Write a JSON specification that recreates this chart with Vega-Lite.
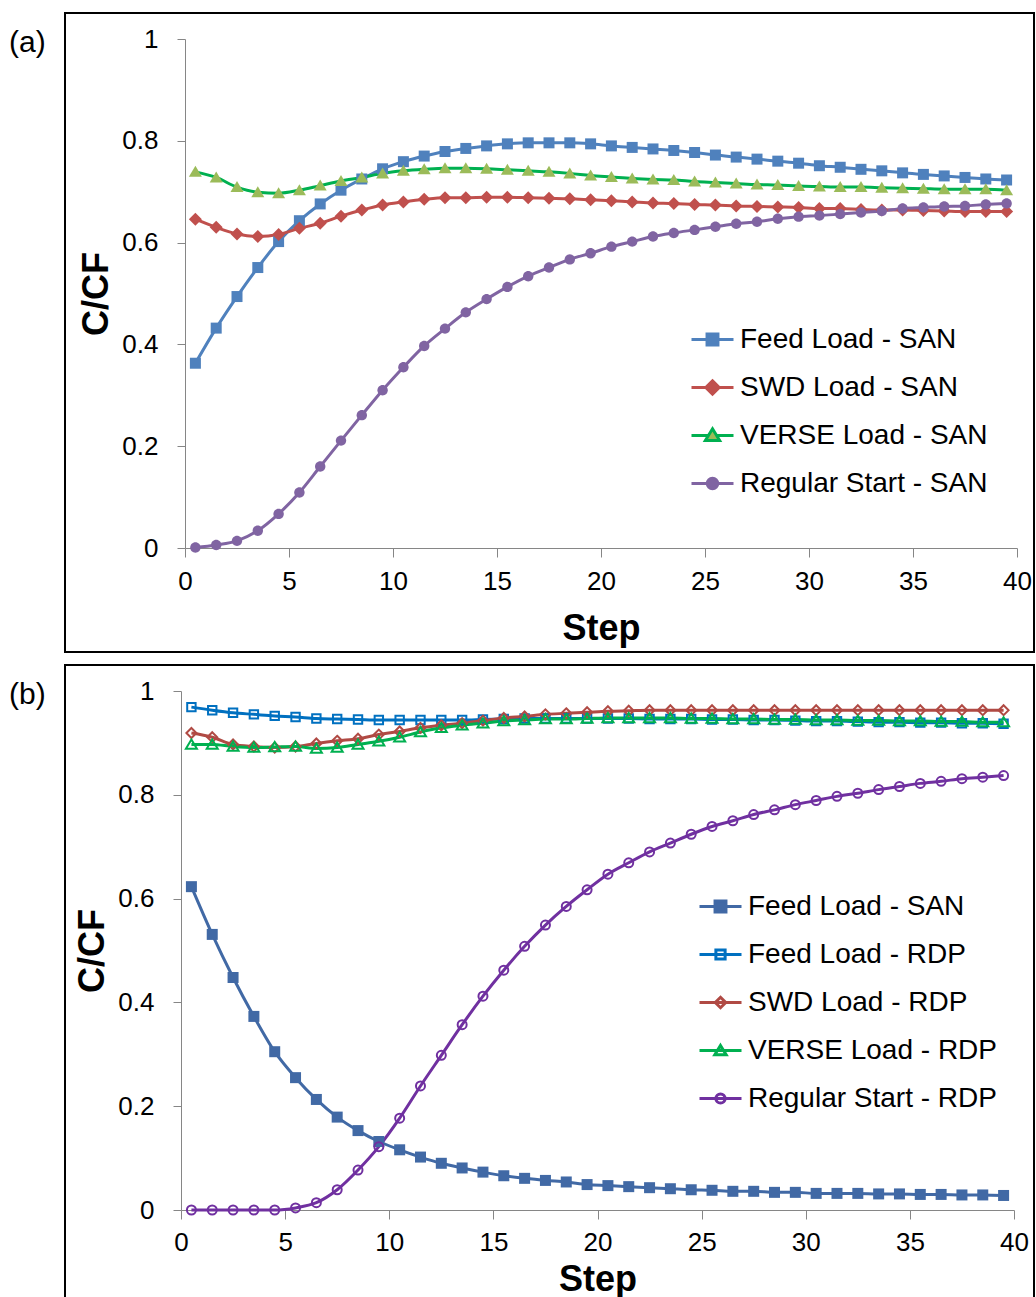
{
  "$schema": "https://vega.github.io/schema/vega-lite/v6.json",
  "background": "white",
  "padding": {"left": 8, "top": 12, "right": 0, "bottom": 0},
  "spacing": 11,
  "config": {
    "font": "Liberation Sans",
    "axis": {"grid": false, "domainColor": "#868686", "tickColor": "#868686", "labelColor": "black", "titleColor": "black", "labelFont": "Liberation Sans", "titleFont": "Liberation Sans", "labelFontSize": 26, "titleFontSize": 36, "titleFontWeight": "bold", "domainWidth": 1, "tickWidth": 1, "labelFlush": false, "labelOverlap": false},
    "legend": {"labelFont": "Liberation Sans", "labelFontSize": 28, "labelColor": "black", "labelLimit": 600, "symbolSize": 1764, "rowPadding": 11, "labelOffset": 5, "padding": 0, "symbolStrokeWidth": 3, "symbolOpacity": 1},
    "title": {"font": "Liberation Sans", "fontSize": 30, "fontWeight": "normal", "color": "black"}
  },
  "resolve": {"scale": {"x": "independent", "y": "independent", "stroke": "independent", "fill": "independent", "shape": "independent"}, "legend": {"stroke": "independent"}},
  "datasets": {
    "a": [
      {"s":"Feed Load - SAN","x":0.5,"y":0.363},{"s":"Feed Load - SAN","x":1.5,"y":0.432},{"s":"Feed Load - SAN","x":2.5,"y":0.494},{"s":"Feed Load - SAN","x":3.5,"y":0.551},{"s":"Feed Load - SAN","x":4.5,"y":0.602},{"s":"Feed Load - SAN","x":5.5,"y":0.643},{"s":"Feed Load - SAN","x":6.5,"y":0.676},{"s":"Feed Load - SAN","x":7.5,"y":0.703},{"s":"Feed Load - SAN","x":8.5,"y":0.725},{"s":"Feed Load - SAN","x":9.5,"y":0.745},
      {"s":"Feed Load - SAN","x":10.5,"y":0.759},{"s":"Feed Load - SAN","x":11.5,"y":0.770},{"s":"Feed Load - SAN","x":12.5,"y":0.779},{"s":"Feed Load - SAN","x":13.5,"y":0.785},{"s":"Feed Load - SAN","x":14.5,"y":0.790},{"s":"Feed Load - SAN","x":15.5,"y":0.794},{"s":"Feed Load - SAN","x":16.5,"y":0.796},{"s":"Feed Load - SAN","x":17.5,"y":0.796},{"s":"Feed Load - SAN","x":18.5,"y":0.796},{"s":"Feed Load - SAN","x":19.5,"y":0.794},
      {"s":"Feed Load - SAN","x":20.5,"y":0.790},{"s":"Feed Load - SAN","x":21.5,"y":0.787},{"s":"Feed Load - SAN","x":22.5,"y":0.784},{"s":"Feed Load - SAN","x":23.5,"y":0.781},{"s":"Feed Load - SAN","x":24.5,"y":0.777},{"s":"Feed Load - SAN","x":25.5,"y":0.772},{"s":"Feed Load - SAN","x":26.5,"y":0.768},{"s":"Feed Load - SAN","x":27.5,"y":0.764},{"s":"Feed Load - SAN","x":28.5,"y":0.760},{"s":"Feed Load - SAN","x":29.5,"y":0.756},
      {"s":"Feed Load - SAN","x":30.5,"y":0.751},{"s":"Feed Load - SAN","x":31.5,"y":0.748},{"s":"Feed Load - SAN","x":32.5,"y":0.744},{"s":"Feed Load - SAN","x":33.5,"y":0.741},{"s":"Feed Load - SAN","x":34.5,"y":0.737},{"s":"Feed Load - SAN","x":35.5,"y":0.734},{"s":"Feed Load - SAN","x":36.5,"y":0.731},{"s":"Feed Load - SAN","x":37.5,"y":0.728},{"s":"Feed Load - SAN","x":38.5,"y":0.725},{"s":"Feed Load - SAN","x":39.5,"y":0.723},
      {"s":"SWD Load - SAN","x":0.5,"y":0.646},{"s":"SWD Load - SAN","x":1.5,"y":0.630},{"s":"SWD Load - SAN","x":2.5,"y":0.617},{"s":"SWD Load - SAN","x":3.5,"y":0.612},{"s":"SWD Load - SAN","x":4.5,"y":0.616},{"s":"SWD Load - SAN","x":5.5,"y":0.628},{"s":"SWD Load - SAN","x":6.5,"y":0.638},{"s":"SWD Load - SAN","x":7.5,"y":0.652},{"s":"SWD Load - SAN","x":8.5,"y":0.664},{"s":"SWD Load - SAN","x":9.5,"y":0.674},
      {"s":"SWD Load - SAN","x":10.5,"y":0.680},{"s":"SWD Load - SAN","x":11.5,"y":0.685},{"s":"SWD Load - SAN","x":12.5,"y":0.688},{"s":"SWD Load - SAN","x":13.5,"y":0.688},{"s":"SWD Load - SAN","x":14.5,"y":0.689},{"s":"SWD Load - SAN","x":15.5,"y":0.689},{"s":"SWD Load - SAN","x":16.5,"y":0.688},{"s":"SWD Load - SAN","x":17.5,"y":0.687},{"s":"SWD Load - SAN","x":18.5,"y":0.686},{"s":"SWD Load - SAN","x":19.5,"y":0.684},
      {"s":"SWD Load - SAN","x":20.5,"y":0.682},{"s":"SWD Load - SAN","x":21.5,"y":0.680},{"s":"SWD Load - SAN","x":22.5,"y":0.678},{"s":"SWD Load - SAN","x":23.5,"y":0.677},{"s":"SWD Load - SAN","x":24.5,"y":0.675},{"s":"SWD Load - SAN","x":25.5,"y":0.674},{"s":"SWD Load - SAN","x":26.5,"y":0.672},{"s":"SWD Load - SAN","x":27.5,"y":0.671},{"s":"SWD Load - SAN","x":28.5,"y":0.670},{"s":"SWD Load - SAN","x":29.5,"y":0.669},
      {"s":"SWD Load - SAN","x":30.5,"y":0.667},{"s":"SWD Load - SAN","x":31.5,"y":0.667},{"s":"SWD Load - SAN","x":32.5,"y":0.665},{"s":"SWD Load - SAN","x":33.5,"y":0.664},{"s":"SWD Load - SAN","x":34.5,"y":0.664},{"s":"SWD Load - SAN","x":35.5,"y":0.663},{"s":"SWD Load - SAN","x":36.5,"y":0.662},{"s":"SWD Load - SAN","x":37.5,"y":0.661},{"s":"SWD Load - SAN","x":38.5,"y":0.661},{"s":"SWD Load - SAN","x":39.5,"y":0.661},
      {"s":"VERSE Load - SAN","x":0.5,"y":0.739},{"s":"VERSE Load - SAN","x":1.5,"y":0.728},{"s":"VERSE Load - SAN","x":2.5,"y":0.709},{"s":"VERSE Load - SAN","x":3.5,"y":0.699},{"s":"VERSE Load - SAN","x":4.5,"y":0.697},{"s":"VERSE Load - SAN","x":5.5,"y":0.703},{"s":"VERSE Load - SAN","x":6.5,"y":0.712},{"s":"VERSE Load - SAN","x":7.5,"y":0.721},{"s":"VERSE Load - SAN","x":8.5,"y":0.728},{"s":"VERSE Load - SAN","x":9.5,"y":0.736},
      {"s":"VERSE Load - SAN","x":10.5,"y":0.741},{"s":"VERSE Load - SAN","x":11.5,"y":0.744},{"s":"VERSE Load - SAN","x":12.5,"y":0.746},{"s":"VERSE Load - SAN","x":13.5,"y":0.746},{"s":"VERSE Load - SAN","x":14.5,"y":0.745},{"s":"VERSE Load - SAN","x":15.5,"y":0.743},{"s":"VERSE Load - SAN","x":16.5,"y":0.741},{"s":"VERSE Load - SAN","x":17.5,"y":0.739},{"s":"VERSE Load - SAN","x":18.5,"y":0.736},{"s":"VERSE Load - SAN","x":19.5,"y":0.732},
      {"s":"VERSE Load - SAN","x":20.5,"y":0.729},{"s":"VERSE Load - SAN","x":21.5,"y":0.726},{"s":"VERSE Load - SAN","x":22.5,"y":0.724},{"s":"VERSE Load - SAN","x":23.5,"y":0.723},{"s":"VERSE Load - SAN","x":24.5,"y":0.720},{"s":"VERSE Load - SAN","x":25.5,"y":0.718},{"s":"VERSE Load - SAN","x":26.5,"y":0.716},{"s":"VERSE Load - SAN","x":27.5,"y":0.714},{"s":"VERSE Load - SAN","x":28.5,"y":0.713},{"s":"VERSE Load - SAN","x":29.5,"y":0.711},
      {"s":"VERSE Load - SAN","x":30.5,"y":0.710},{"s":"VERSE Load - SAN","x":31.5,"y":0.709},{"s":"VERSE Load - SAN","x":32.5,"y":0.709},{"s":"VERSE Load - SAN","x":33.5,"y":0.708},{"s":"VERSE Load - SAN","x":34.5,"y":0.707},{"s":"VERSE Load - SAN","x":35.5,"y":0.706},{"s":"VERSE Load - SAN","x":36.5,"y":0.705},{"s":"VERSE Load - SAN","x":37.5,"y":0.705},{"s":"VERSE Load - SAN","x":38.5,"y":0.705},{"s":"VERSE Load - SAN","x":39.5,"y":0.703},
      {"s":"Regular Start - SAN","x":0.5,"y":0.001},{"s":"Regular Start - SAN","x":1.5,"y":0.006},{"s":"Regular Start - SAN","x":2.5,"y":0.014},{"s":"Regular Start - SAN","x":3.5,"y":0.034},{"s":"Regular Start - SAN","x":4.5,"y":0.067},{"s":"Regular Start - SAN","x":5.5,"y":0.109},{"s":"Regular Start - SAN","x":6.5,"y":0.160},{"s":"Regular Start - SAN","x":7.5,"y":0.211},{"s":"Regular Start - SAN","x":8.5,"y":0.261},{"s":"Regular Start - SAN","x":9.5,"y":0.310},
      {"s":"Regular Start - SAN","x":10.5,"y":0.355},{"s":"Regular Start - SAN","x":11.5,"y":0.397},{"s":"Regular Start - SAN","x":12.5,"y":0.431},{"s":"Regular Start - SAN","x":13.5,"y":0.463},{"s":"Regular Start - SAN","x":14.5,"y":0.489},{"s":"Regular Start - SAN","x":15.5,"y":0.513},{"s":"Regular Start - SAN","x":16.5,"y":0.534},{"s":"Regular Start - SAN","x":17.5,"y":0.551},{"s":"Regular Start - SAN","x":18.5,"y":0.567},{"s":"Regular Start - SAN","x":19.5,"y":0.579},
      {"s":"Regular Start - SAN","x":20.5,"y":0.592},{"s":"Regular Start - SAN","x":21.5,"y":0.602},{"s":"Regular Start - SAN","x":22.5,"y":0.612},{"s":"Regular Start - SAN","x":23.5,"y":0.619},{"s":"Regular Start - SAN","x":24.5,"y":0.625},{"s":"Regular Start - SAN","x":25.5,"y":0.631},{"s":"Regular Start - SAN","x":26.5,"y":0.637},{"s":"Regular Start - SAN","x":27.5,"y":0.641},{"s":"Regular Start - SAN","x":28.5,"y":0.647},{"s":"Regular Start - SAN","x":29.5,"y":0.651},
      {"s":"Regular Start - SAN","x":30.5,"y":0.653},{"s":"Regular Start - SAN","x":31.5,"y":0.656},{"s":"Regular Start - SAN","x":32.5,"y":0.659},{"s":"Regular Start - SAN","x":33.5,"y":0.662},{"s":"Regular Start - SAN","x":34.5,"y":0.667},{"s":"Regular Start - SAN","x":35.5,"y":0.669},{"s":"Regular Start - SAN","x":36.5,"y":0.671},{"s":"Regular Start - SAN","x":37.5,"y":0.672},{"s":"Regular Start - SAN","x":38.5,"y":0.675},{"s":"Regular Start - SAN","x":39.5,"y":0.677}
    ],
    "b": [
      {"s":"Feed Load - SAN","x":0.5,"y":0.623},{"s":"Feed Load - SAN","x":1.5,"y":0.531},{"s":"Feed Load - SAN","x":2.5,"y":0.448},{"s":"Feed Load - SAN","x":3.5,"y":0.373},{"s":"Feed Load - SAN","x":4.5,"y":0.305},{"s":"Feed Load - SAN","x":5.5,"y":0.255},{"s":"Feed Load - SAN","x":6.5,"y":0.213},{"s":"Feed Load - SAN","x":7.5,"y":0.179},{"s":"Feed Load - SAN","x":8.5,"y":0.153},{"s":"Feed Load - SAN","x":9.5,"y":0.132},
      {"s":"Feed Load - SAN","x":10.5,"y":0.116},{"s":"Feed Load - SAN","x":11.5,"y":0.102},{"s":"Feed Load - SAN","x":12.5,"y":0.090},{"s":"Feed Load - SAN","x":13.5,"y":0.081},{"s":"Feed Load - SAN","x":14.5,"y":0.073},{"s":"Feed Load - SAN","x":15.5,"y":0.066},{"s":"Feed Load - SAN","x":16.5,"y":0.061},{"s":"Feed Load - SAN","x":17.5,"y":0.057},{"s":"Feed Load - SAN","x":18.5,"y":0.054},{"s":"Feed Load - SAN","x":19.5,"y":0.049},
      {"s":"Feed Load - SAN","x":20.5,"y":0.047},{"s":"Feed Load - SAN","x":21.5,"y":0.045},{"s":"Feed Load - SAN","x":22.5,"y":0.043},{"s":"Feed Load - SAN","x":23.5,"y":0.041},{"s":"Feed Load - SAN","x":24.5,"y":0.039},{"s":"Feed Load - SAN","x":25.5,"y":0.038},{"s":"Feed Load - SAN","x":26.5,"y":0.036},{"s":"Feed Load - SAN","x":27.5,"y":0.036},{"s":"Feed Load - SAN","x":28.5,"y":0.034},{"s":"Feed Load - SAN","x":29.5,"y":0.034},
      {"s":"Feed Load - SAN","x":30.5,"y":0.032},{"s":"Feed Load - SAN","x":31.5,"y":0.032},{"s":"Feed Load - SAN","x":32.5,"y":0.032},{"s":"Feed Load - SAN","x":33.5,"y":0.031},{"s":"Feed Load - SAN","x":34.5,"y":0.031},{"s":"Feed Load - SAN","x":35.5,"y":0.030},{"s":"Feed Load - SAN","x":36.5,"y":0.030},{"s":"Feed Load - SAN","x":37.5,"y":0.029},{"s":"Feed Load - SAN","x":38.5,"y":0.029},{"s":"Feed Load - SAN","x":39.5,"y":0.028},
      {"s":"Feed Load - RDP","x":0.5,"y":0.969},{"s":"Feed Load - RDP","x":1.5,"y":0.963},{"s":"Feed Load - RDP","x":2.5,"y":0.958},{"s":"Feed Load - RDP","x":3.5,"y":0.955},{"s":"Feed Load - RDP","x":4.5,"y":0.952},{"s":"Feed Load - RDP","x":5.5,"y":0.950},{"s":"Feed Load - RDP","x":6.5,"y":0.947},{"s":"Feed Load - RDP","x":7.5,"y":0.946},{"s":"Feed Load - RDP","x":8.5,"y":0.945},{"s":"Feed Load - RDP","x":9.5,"y":0.944},
      {"s":"Feed Load - RDP","x":10.5,"y":0.944},{"s":"Feed Load - RDP","x":11.5,"y":0.944},{"s":"Feed Load - RDP","x":12.5,"y":0.944},{"s":"Feed Load - RDP","x":13.5,"y":0.944},{"s":"Feed Load - RDP","x":14.5,"y":0.945},{"s":"Feed Load - RDP","x":15.5,"y":0.946},{"s":"Feed Load - RDP","x":16.5,"y":0.947},{"s":"Feed Load - RDP","x":17.5,"y":0.947},{"s":"Feed Load - RDP","x":18.5,"y":0.947},{"s":"Feed Load - RDP","x":19.5,"y":0.947},
      {"s":"Feed Load - RDP","x":20.5,"y":0.947},{"s":"Feed Load - RDP","x":21.5,"y":0.947},{"s":"Feed Load - RDP","x":22.5,"y":0.946},{"s":"Feed Load - RDP","x":23.5,"y":0.946},{"s":"Feed Load - RDP","x":24.5,"y":0.946},{"s":"Feed Load - RDP","x":25.5,"y":0.945},{"s":"Feed Load - RDP","x":26.5,"y":0.945},{"s":"Feed Load - RDP","x":27.5,"y":0.944},{"s":"Feed Load - RDP","x":28.5,"y":0.944},{"s":"Feed Load - RDP","x":29.5,"y":0.943},
      {"s":"Feed Load - RDP","x":30.5,"y":0.942},{"s":"Feed Load - RDP","x":31.5,"y":0.942},{"s":"Feed Load - RDP","x":32.5,"y":0.941},{"s":"Feed Load - RDP","x":33.5,"y":0.940},{"s":"Feed Load - RDP","x":34.5,"y":0.940},{"s":"Feed Load - RDP","x":35.5,"y":0.939},{"s":"Feed Load - RDP","x":36.5,"y":0.939},{"s":"Feed Load - RDP","x":37.5,"y":0.938},{"s":"Feed Load - RDP","x":38.5,"y":0.938},{"s":"Feed Load - RDP","x":39.5,"y":0.937},
      {"s":"SWD Load - RDP","x":0.5,"y":0.919},{"s":"SWD Load - RDP","x":1.5,"y":0.911},{"s":"SWD Load - RDP","x":2.5,"y":0.897},{"s":"SWD Load - RDP","x":3.5,"y":0.893},{"s":"SWD Load - RDP","x":4.5,"y":0.891},{"s":"SWD Load - RDP","x":5.5,"y":0.893},{"s":"SWD Load - RDP","x":6.5,"y":0.899},{"s":"SWD Load - RDP","x":7.5,"y":0.904},{"s":"SWD Load - RDP","x":8.5,"y":0.908},{"s":"SWD Load - RDP","x":9.5,"y":0.916},
      {"s":"SWD Load - RDP","x":10.5,"y":0.922},{"s":"SWD Load - RDP","x":11.5,"y":0.929},{"s":"SWD Load - RDP","x":12.5,"y":0.934},{"s":"SWD Load - RDP","x":13.5,"y":0.938},{"s":"SWD Load - RDP","x":14.5,"y":0.943},{"s":"SWD Load - RDP","x":15.5,"y":0.948},{"s":"SWD Load - RDP","x":16.5,"y":0.951},{"s":"SWD Load - RDP","x":17.5,"y":0.955},{"s":"SWD Load - RDP","x":18.5,"y":0.957},{"s":"SWD Load - RDP","x":19.5,"y":0.959},
      {"s":"SWD Load - RDP","x":20.5,"y":0.961},{"s":"SWD Load - RDP","x":21.5,"y":0.962},{"s":"SWD Load - RDP","x":22.5,"y":0.963},{"s":"SWD Load - RDP","x":23.5,"y":0.963},{"s":"SWD Load - RDP","x":24.5,"y":0.963},{"s":"SWD Load - RDP","x":25.5,"y":0.963},{"s":"SWD Load - RDP","x":26.5,"y":0.963},{"s":"SWD Load - RDP","x":27.5,"y":0.963},{"s":"SWD Load - RDP","x":28.5,"y":0.963},{"s":"SWD Load - RDP","x":29.5,"y":0.963},
      {"s":"SWD Load - RDP","x":30.5,"y":0.963},{"s":"SWD Load - RDP","x":31.5,"y":0.963},{"s":"SWD Load - RDP","x":32.5,"y":0.963},{"s":"SWD Load - RDP","x":33.5,"y":0.963},{"s":"SWD Load - RDP","x":34.5,"y":0.963},{"s":"SWD Load - RDP","x":35.5,"y":0.963},{"s":"SWD Load - RDP","x":36.5,"y":0.963},{"s":"SWD Load - RDP","x":37.5,"y":0.963},{"s":"SWD Load - RDP","x":38.5,"y":0.963},{"s":"SWD Load - RDP","x":39.5,"y":0.963},
      {"s":"VERSE Load - RDP","x":0.5,"y":0.897},{"s":"VERSE Load - RDP","x":1.5,"y":0.897},{"s":"VERSE Load - RDP","x":2.5,"y":0.893},{"s":"VERSE Load - RDP","x":3.5,"y":0.891},{"s":"VERSE Load - RDP","x":4.5,"y":0.892},{"s":"VERSE Load - RDP","x":5.5,"y":0.893},{"s":"VERSE Load - RDP","x":6.5,"y":0.889},{"s":"VERSE Load - RDP","x":7.5,"y":0.891},{"s":"VERSE Load - RDP","x":8.5,"y":0.897},{"s":"VERSE Load - RDP","x":9.5,"y":0.903},
      {"s":"VERSE Load - RDP","x":10.5,"y":0.911},{"s":"VERSE Load - RDP","x":11.5,"y":0.921},{"s":"VERSE Load - RDP","x":12.5,"y":0.929},{"s":"VERSE Load - RDP","x":13.5,"y":0.934},{"s":"VERSE Load - RDP","x":14.5,"y":0.938},{"s":"VERSE Load - RDP","x":15.5,"y":0.942},{"s":"VERSE Load - RDP","x":16.5,"y":0.944},{"s":"VERSE Load - RDP","x":17.5,"y":0.946},{"s":"VERSE Load - RDP","x":18.5,"y":0.946},{"s":"VERSE Load - RDP","x":19.5,"y":0.947},
      {"s":"VERSE Load - RDP","x":20.5,"y":0.948},{"s":"VERSE Load - RDP","x":21.5,"y":0.948},{"s":"VERSE Load - RDP","x":22.5,"y":0.948},{"s":"VERSE Load - RDP","x":23.5,"y":0.948},{"s":"VERSE Load - RDP","x":24.5,"y":0.947},{"s":"VERSE Load - RDP","x":25.5,"y":0.947},{"s":"VERSE Load - RDP","x":26.5,"y":0.946},{"s":"VERSE Load - RDP","x":27.5,"y":0.946},{"s":"VERSE Load - RDP","x":28.5,"y":0.945},{"s":"VERSE Load - RDP","x":29.5,"y":0.945},
      {"s":"VERSE Load - RDP","x":30.5,"y":0.944},{"s":"VERSE Load - RDP","x":31.5,"y":0.944},{"s":"VERSE Load - RDP","x":32.5,"y":0.943},{"s":"VERSE Load - RDP","x":33.5,"y":0.943},{"s":"VERSE Load - RDP","x":34.5,"y":0.942},{"s":"VERSE Load - RDP","x":35.5,"y":0.942},{"s":"VERSE Load - RDP","x":36.5,"y":0.941},{"s":"VERSE Load - RDP","x":37.5,"y":0.941},{"s":"VERSE Load - RDP","x":38.5,"y":0.940},{"s":"VERSE Load - RDP","x":39.5,"y":0.940},
      {"s":"Regular Start - RDP","x":0.5,"y":0},{"s":"Regular Start - RDP","x":1.5,"y":0},{"s":"Regular Start - RDP","x":2.5,"y":0},{"s":"Regular Start - RDP","x":3.5,"y":0},{"s":"Regular Start - RDP","x":4.5,"y":0},{"s":"Regular Start - RDP","x":5.5,"y":0.004},{"s":"Regular Start - RDP","x":6.5,"y":0.014},{"s":"Regular Start - RDP","x":7.5,"y":0.039},{"s":"Regular Start - RDP","x":8.5,"y":0.077},{"s":"Regular Start - RDP","x":9.5,"y":0.122},
      {"s":"Regular Start - RDP","x":10.5,"y":0.177},{"s":"Regular Start - RDP","x":11.5,"y":0.239},{"s":"Regular Start - RDP","x":12.5,"y":0.298},{"s":"Regular Start - RDP","x":13.5,"y":0.357},{"s":"Regular Start - RDP","x":14.5,"y":0.412},{"s":"Regular Start - RDP","x":15.5,"y":0.462},{"s":"Regular Start - RDP","x":16.5,"y":0.508},{"s":"Regular Start - RDP","x":17.5,"y":0.549},{"s":"Regular Start - RDP","x":18.5,"y":0.585},{"s":"Regular Start - RDP","x":19.5,"y":0.617},
      {"s":"Regular Start - RDP","x":20.5,"y":0.647},{"s":"Regular Start - RDP","x":21.5,"y":0.669},{"s":"Regular Start - RDP","x":22.5,"y":0.690},{"s":"Regular Start - RDP","x":23.5,"y":0.707},{"s":"Regular Start - RDP","x":24.5,"y":0.724},{"s":"Regular Start - RDP","x":25.5,"y":0.739},{"s":"Regular Start - RDP","x":26.5,"y":0.750},{"s":"Regular Start - RDP","x":27.5,"y":0.762},{"s":"Regular Start - RDP","x":28.5,"y":0.771},{"s":"Regular Start - RDP","x":29.5,"y":0.781},
      {"s":"Regular Start - RDP","x":30.5,"y":0.789},{"s":"Regular Start - RDP","x":31.5,"y":0.797},{"s":"Regular Start - RDP","x":32.5,"y":0.803},{"s":"Regular Start - RDP","x":33.5,"y":0.810},{"s":"Regular Start - RDP","x":34.5,"y":0.816},{"s":"Regular Start - RDP","x":35.5,"y":0.822},{"s":"Regular Start - RDP","x":36.5,"y":0.826},{"s":"Regular Start - RDP","x":37.5,"y":0.831},{"s":"Regular Start - RDP","x":38.5,"y":0.834},{"s":"Regular Start - RDP","x":39.5,"y":0.837}
    ]
  },
  "vconcat": [
    {
      "width": 969,
      "height": 639,
      "view": {"stroke": "black", "strokeWidth": 2},
      "title": {"text": "(a)", "anchor": "start", "orient": "top", "offset": -29, "baseline": "top", "dx": -56, "dy": 16},
      "data": {"name": "a"},
      "encoding": {
        "x": {"field": "x", "type": "quantitative", "scale": {"domain": [0, 40], "range": [120, 952], "nice": false, "zero": false},
              "axis": {"title": "Step", "values": [0, 5, 10, 15, 20, 25, 30, 35, 40], "offset": -104, "tickSize": 9, "labelPadding": 11, "titlePadding": 17}},
        "y": {"field": "y", "type": "quantitative", "scale": {"domain": [0, 1], "range": [535, 26], "nice": false},
              "axis": {"title": "C/CF", "values": [0, 0.2, 0.4, 0.6, 0.8, 1], "format": "~g", "offset": -120, "tickSize": 8, "labelPadding": 19, "titlePadding": 6}}
      },
      "layer": [
        {
          "mark": {"type": "line", "strokeWidth": 3, "interpolate": "monotone"},
          "encoding": {
            "stroke": {"field": "s", "type": "nominal",
              "scale": {"domain": ["Feed Load - SAN", "SWD Load - SAN", "VERSE Load - SAN", "Regular Start - SAN"], "range": ["#4F81BD", "#C0504D", "#00B050", "#8064A2"]},
              "legend": {"orient": "none", "legendX": 625, "legendY": 304, "title": null,
                "encode": {"symbols": {"update": {
                  "shape": {"signal": "datum.value === 'Feed Load - SAN' ? 'M-1,0H1M-0.26,-0.26H0.26V0.26H-0.26Z' : datum.value === 'SWD Load - SAN' ? 'M-1,0H1M0,-0.32L0.32,0L0,0.32L-0.32,0Z' : datum.value === 'VERSE Load - SAN' ? 'M-1,0H-0.17M0.17,0H1M0,-0.32L0.34,0.24H-0.34Z' : 'M-1,0H1M-0.25,0A0.25,0.25 0 1,0 0.25,0A0.25,0.25 0 1,0 -0.25,0Z'"},
                  "fill": {"signal": "datum.value === 'Feed Load - SAN' ? '#4F81BD' : datum.value === 'SWD Load - SAN' ? '#C0504D' : datum.value === 'VERSE Load - SAN' ? '#9BBB59' : '#8064A2'"},
                  "stroke": {"signal": "datum.value === 'Feed Load - SAN' ? '#4F81BD' : datum.value === 'SWD Load - SAN' ? '#C0504D' : datum.value === 'VERSE Load - SAN' ? '#00B050' : '#8064A2'"},
                  "strokeWidth": {"value": 3},
                  "opacity": {"value": 1}
                }}}
              }
            }
          }
        },
        {
          "transform": [{"filter": "datum.s === 'Feed Load - SAN'"}],
          "mark": {"type": "point", "filled": true, "size": 400, "opacity": 1, "color": "#4F81BD", "shape": "M-0.55,-0.55H0.55V0.55H-0.55Z"},
          "encoding": {}
        },
        {
          "transform": [{"filter": "datum.s === 'SWD Load - SAN'"}],
          "mark": {"type": "point", "filled": true, "size": 400, "opacity": 1, "color": "#C0504D", "shape": "M0,-0.65L0.65,0L0,0.65L-0.65,0Z"},
          "encoding": {}
        },
        {
          "transform": [{"filter": "datum.s === 'VERSE Load - SAN'"}],
          "mark": {"type": "point", "filled": true, "size": 400, "opacity": 1, "color": "#9BBB59", "shape": "M0,-0.6L0.65,0.5H-0.65Z"},
          "encoding": {}
        },
        {
          "transform": [{"filter": "datum.s === 'Regular Start - SAN'"}],
          "mark": {"type": "point", "filled": true, "size": 400, "opacity": 1, "color": "#8064A2", "shape": "M-0.52,0A0.52,0.52 0 1,0 0.52,0A0.52,0.52 0 1,0 -0.52,0Z"},
          "encoding": {}
        }
      ]
    },
    {
      "width": 969,
      "height": 639,
      "view": {"stroke": "black", "strokeWidth": 2},
      "title": {"text": "(b)", "anchor": "start", "orient": "top", "offset": -29, "baseline": "top", "dx": -56, "dy": 16},
      "data": {"name": "b"},
      "encoding": {
        "x": {"field": "x", "type": "quantitative", "scale": {"domain": [0, 40], "range": [116, 949], "nice": false, "zero": false},
              "axis": {"title": "Step", "values": [0, 5, 10, 15, 20, 25, 30, 35, 40], "offset": -94, "tickSize": 9, "labelPadding": 10, "titlePadding": 7}},
        "y": {"field": "y", "type": "quantitative", "scale": {"domain": [0, 1], "range": [545, 26], "nice": false},
              "axis": {"title": "C/CF", "values": [0, 0.2, 0.4, 0.6, 0.8, 1], "format": "~g", "offset": -116, "tickSize": 8, "labelPadding": 19, "titlePadding": 6}}
      },
      "layer": [
        {
          "mark": {"type": "line", "strokeWidth": 3, "interpolate": "monotone"},
          "encoding": {
            "stroke": {"field": "s", "type": "nominal",
              "scale": {"domain": ["Feed Load - SAN", "Feed Load - RDP", "SWD Load - RDP", "VERSE Load - RDP", "Regular Start - RDP"], "range": ["#4169A5", "#0070C0", "#B04A44", "#00B050", "#7030A0"]},
              "legend": {"orient": "none", "legendX": 633, "legendY": 219, "title": null,
                "encode": {"symbols": {"update": {
                  "shape": {"signal": "datum.value === 'Feed Load - SAN' ? 'M-1,0H1M-0.26,-0.26H0.26V0.26H-0.26Z' : datum.value === 'Feed Load - RDP' ? 'M-1,0H1M-0.22,-0.22H0.22V0.22H-0.22Z' : datum.value === 'SWD Load - RDP' ? 'M-1,0H1M0,-0.25L0.25,0L0,0.25L-0.25,0Z' : datum.value === 'VERSE Load - RDP' ? 'M-1,0H1M0,-0.24L0.27,0.2H-0.27Z' : 'M-1,0H1M-0.22,0A0.22,0.22 0 1,0 0.22,0A0.22,0.22 0 1,0 -0.22,0Z'"},
                  "fill": {"signal": "datum.value === 'Feed Load - SAN' ? '#4169A5' : 'transparent'"},
                  "stroke": {"signal": "datum.value === 'Feed Load - SAN' ? '#4169A5' : datum.value === 'Feed Load - RDP' ? '#0070C0' : datum.value === 'SWD Load - RDP' ? '#B04A44' : datum.value === 'VERSE Load - RDP' ? '#00B050' : '#7030A0'"},
                  "strokeWidth": {"value": 3},
                  "opacity": {"value": 1}
                }}}
              }
            }
          }
        },
        {
          "transform": [{"filter": "datum.s === 'Feed Load - SAN'"}],
          "mark": {"type": "point", "filled": true, "size": 400, "opacity": 1, "color": "#4169A5", "shape": "M-0.55,-0.55H0.55V0.55H-0.55Z"},
          "encoding": {}
        },
        {
          "transform": [{"filter": "datum.s === 'Feed Load - RDP'"}],
          "mark": {"type": "point", "filled": false, "size": 400, "opacity": 1, "strokeWidth": 2, "fill": "transparent", "color": "#0070C0", "shape": "M-0.42,-0.42H0.42V0.42H-0.42Z"},
          "encoding": {}
        },
        {
          "transform": [{"filter": "datum.s === 'SWD Load - RDP'"}],
          "mark": {"type": "point", "filled": false, "size": 400, "opacity": 1, "strokeWidth": 2, "fill": "transparent", "color": "#B04A44", "shape": "M0,-0.5L0.5,0L0,0.5L-0.5,0Z"},
          "encoding": {}
        },
        {
          "transform": [{"filter": "datum.s === 'VERSE Load - RDP'"}],
          "mark": {"type": "point", "filled": false, "size": 400, "opacity": 1, "strokeWidth": 2, "fill": "transparent", "color": "#00B050", "shape": "M0,-0.5L0.55,0.42H-0.55Z"},
          "encoding": {}
        },
        {
          "transform": [{"filter": "datum.s === 'Regular Start - RDP'"}],
          "mark": {"type": "point", "filled": false, "size": 400, "opacity": 1, "strokeWidth": 2, "fill": "transparent", "color": "#7030A0", "shape": "M-0.45,0A0.45,0.45 0 1,0 0.45,0A0.45,0.45 0 1,0 -0.45,0Z"},
          "encoding": {}
        }
      ]
    }
  ]
}
